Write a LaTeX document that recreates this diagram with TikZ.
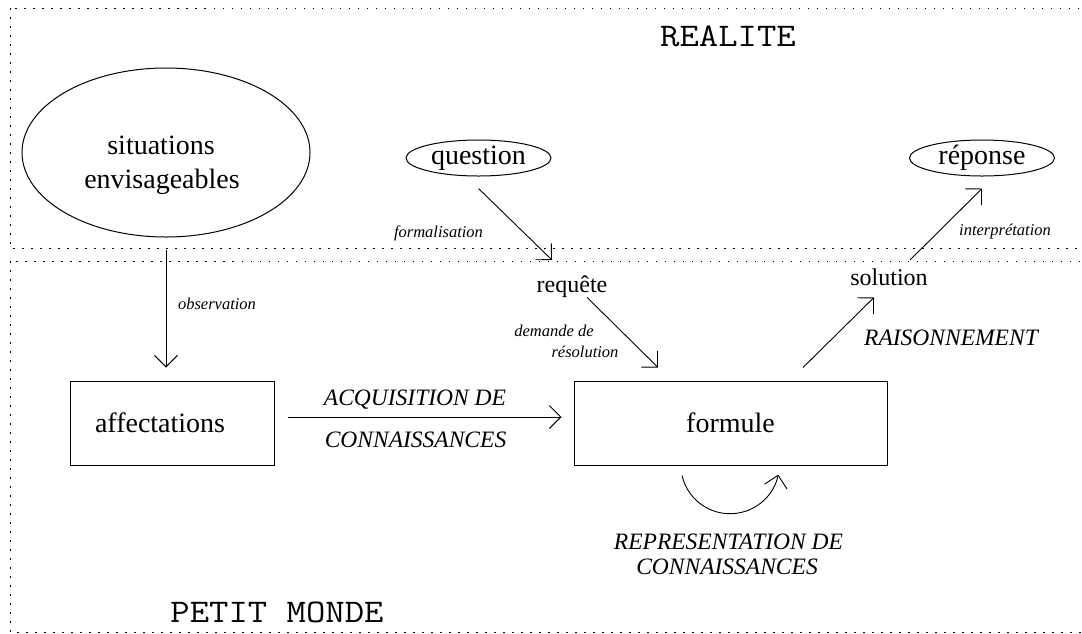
\documentclass[tikz,border=0pt]{standalone}
\usepackage{fontspec}
\setmainfont{Liberation Serif}
\usetikzlibrary{shapes.geometric,arrows.meta}
\begin{document}
\begin{tikzpicture}[x=1pt,y=-1pt,
  big/.style={font=\fontsize{28}{32}\selectfont},
  med/.style={font=\fontsize{24}{28}\selectfont},
  caps/.style={font=\fontsize{23.5}{24}\selectfont\itshape},
  lbl/.style={font=\fontsize{16.5}{18}\selectfont\itshape},
  mono/.style={font=\fontsize{33}{36}\selectfont\ttfamily},
  zone/.style={line width=0.9pt,dash pattern=on 1.5pt off 7.5pt},
  shape line/.style={draw,line width=1pt,inner sep=0pt},
  arr/.style={line width=0.9pt,-{Straight Barb[length=11.5pt,width=23pt]}}
]
\useasboundingbox (0,0) rectangle (1082,633);
\clip (0,0) rectangle (1082,633);
% zones
\draw[zone] (10,8) rectangle (1110,248);
\draw[zone] (10,261) rectangle (1110,632);
\node[mono,anchor=base] (realite) at (728,46) {\scalebox{1.14}[1]{REALITE}};
\node[mono,anchor=base] (petit) at (277,622) {\scalebox{1.14}[1]{PETIT MONDE}};
% nodes
\node[shape line,ellipse,minimum width=288pt,minimum height=169pt] (sit) at (166,152.5) {};
\node[big,anchor=base] (sit1) at (161,154) {situations};
\node[big,anchor=base] (sit2) at (162,188) {envisageables};
\node[shape line,ellipse,big,minimum width=145pt,minimum height=36pt] (q) at (478.5,158) {question};
\node[shape line,ellipse,big,minimum width=145pt,minimum height=36pt] (rep) at (982,158) {réponse};
\node[shape line,rectangle,big,minimum height=84pt,inner xsep=25pt,text width=154pt,align=left] (aff) at (172,423) {affectations};
\node[shape line,rectangle,big,minimum width=313pt,minimum height=84pt] (fo) at (730.5,423) {formule};
\node[med,anchor=base,inner sep=0pt] (req) at (572,292) {requête};
\node[med,anchor=base,inner sep=0pt] (sol) at (889,285) {solution};
% labels
\node[lbl,anchor=base] (lform) at (438.5,237) {formalisation};
\node[lbl,anchor=base] (lobs) at (217,309) {observation};
\node[lbl,anchor=base] (ldem1) at (554,336) {demande de};
\node[lbl,anchor=base] (ldem2) at (585,357) {résolution};
\node[lbl,anchor=base] (linter) at (1005,235) {interprétation};
\node[caps,anchor=base] (lrais) at (951,345) {RAISONNEMENT};
\node[caps,anchor=base] (lacq1) at (415,405) {ACQUISITION DE};
\node[caps,anchor=base] (lacq2) at (415.5,447) {CONNAISSANCES};
\node[caps,anchor=base] (lrep1) at (728.5,549) {REPRESENTATION DE};
\node[caps,anchor=base] (lrep2) at (727,574) {CONNAISSANCES};
% connectors
\draw[arr,shorten <=12.5pt,shorten >=13pt] (sit.south) -- (sit.south |- aff.north);
\coordinate (ftip) at (552,260);
\draw[arr] ([yshift=-12pt]q.south) -- (ftip);
\draw[arr] ([xshift=15pt]req.south) -- ([xshift=-72.5pt,yshift=13pt]fo.north);
\draw[arr] ([xshift=72.5pt,yshift=13pt]fo.north) -- ([xshift=-15pt,yshift=-12pt]sol.south);
\coordinate (istart) at (910,260);
\draw[arr] (istart) -- ([yshift=-12pt]rep.south);
\draw[arr] ([xshift=13pt,yshift=6pt]aff.east) -- ([xshift=-12pt,yshift=6pt]fo.west);
\draw[arr] ([xshift=-48.5pt,yshift=-10pt]fo.south) arc[start angle=193,end angle=348,radius=49.3pt];
\end{tikzpicture}
\end{document}
